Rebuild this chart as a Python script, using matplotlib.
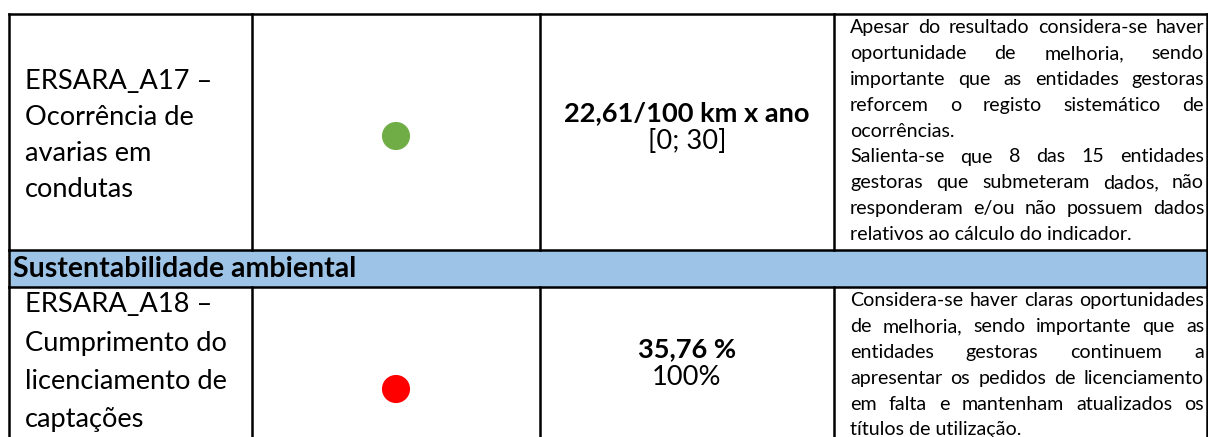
import matplotlib
matplotlib.use('Agg')
import matplotlib.pyplot as plt

W, H, DPI = 1208, 437, 100
FONT = ['Lato', 'DejaVu Sans']

# ---- table content ----
section_title = 'Sustentabilidade ambiental'
indicators = [
    ['ERSARA_A17 –', 'Ocorrência de', 'avarias em', 'condutas'],
    ['ERSARA_A18 –', 'Cumprimento do', 'licenciamento de', 'captações'],
]
status_colors = ['#70AD47', '#FF0000']
values = ['22,61/100 km x ano', '35,76 %']
references = ['[0; 30]', '100%']
comments = [
    [
        ['Apesar do resultado considera-se haver',
         'oportunidade de melhoria, sendo',
         'importante que as entidades gestoras',
         'reforcem o registo sistemático de',
         'ocorrências.'],
        ['Salienta-se que 8 das 15 entidades',
         'gestoras que submeteram dados, não',
         'responderam e/ou não possuem dados',
         'relativos ao cálculo do indicador.'],
    ],
    [
        ['Considera-se haver claras oportunidades',
         'de melhoria, sendo importante que as',
         'entidades gestoras continuem a',
         'apresentar os pedidos de licenciamento',
         'em falta e mantenham atualizados os',
         'títulos de utilização.'],
    ],
]

# ---- layout (pixels) ----
col_x = [9, 252, 540, 834, 1207]
top_y = 14
header_y = (250, 287)
ind_base = [89, 312]        # first baseline of indicator text
ind_step = [36, 38.5]
val_base = [121, 357]
dot_y = [136, 389]
com_base = [33, 306]
com_step = 25.9
HEADER_BLUE = '#9DC3E6'

fig = plt.figure(figsize=(W / DPI, H / DPI), dpi=DPI)
ax = fig.add_axes([0, 0, 1, 1])
ax.set_xlim(0, W)
ax.set_ylim(H, 0)
ax.axis('off')
renderer = fig.canvas.get_renderer()


def text_width(s, size, weight='normal'):
    t = ax.text(0, 0, s, fontsize=size, fontweight=weight, family=FONT)
    w = t.get_window_extent(renderer).width
    t.remove()
    return w


# font sizes fitted to the widths seen in the picture
big = 10 * 203 / text_width('licenciamento de', 10)
head = 10 * 344 / text_width(section_title, 10, 'bold')
justified = [ln for c in comments for p in c for ln in p[:-1]]
small = 10 * 352 / max(text_width(ln, 10) for ln in justified)


def put(x, y, s, size, weight='normal', ha='left'):
    ax.text(x, y, s, fontsize=size, fontweight=weight, family=FONT,
            ha=ha, va='baseline', color='black')


def put_justified(x0, x1, y, line, size, justify):
    if not justify:
        put(x0, y, line, size)
        return
    words = line.split()
    widths = [text_width(w, size) for w in words]
    gap = (x1 - x0 - sum(widths)) / (len(words) - 1)
    x = x0
    for w, wd in zip(words, widths):
        put(x, y, w, size)
        x += wd + gap


# header band
ax.fill_between([col_x[0], W], header_y[0], header_y[1], color=HEADER_BLUE, lw=0)
put(13, 277, section_title, head, weight='bold')

# rows
for r in range(2):
    for i, line in enumerate(indicators[r]):
        put(25, ind_base[r] + i * ind_step[r], line, big)
    put((col_x[2] + col_x[3]) / 2, val_base[r], values[r], big, weight='bold', ha='center')
    put((col_x[2] + col_x[3]) / 2, val_base[r] + 28, references[r], big, ha='center')
    k = 0
    for para in comments[r]:
        for j, line in enumerate(para):
            put_justified(850, 1204, com_base[r] + k * com_step, line, small,
                          j < len(para) - 1)
            k += 1

ax.scatter([(col_x[1] + col_x[2]) / 2] * 2, dot_y, s=410, c=status_colors,
           edgecolors='none', zorder=3)

# grid lines
lw = 1.8
ax.plot([col_x[0], W], [top_y, top_y], color='black', lw=lw, solid_capstyle='projecting')
for y in header_y:
    ax.plot([col_x[0], W], [y, y], color='black', lw=lw)
for x in col_x:
    ax.plot([x, x], [top_y, header_y[0]], color='black', lw=lw)
    ax.plot([x, x], [header_y[1], H], color='black', lw=lw)
ax.plot([col_x[0], col_x[0]], [header_y[0], header_y[1]], color='black', lw=lw)
ax.plot([col_x[-1], col_x[-1]], [header_y[0], header_y[1]], color='black', lw=lw)

fig.savefig('out.png', dpi=DPI, facecolor='white')
